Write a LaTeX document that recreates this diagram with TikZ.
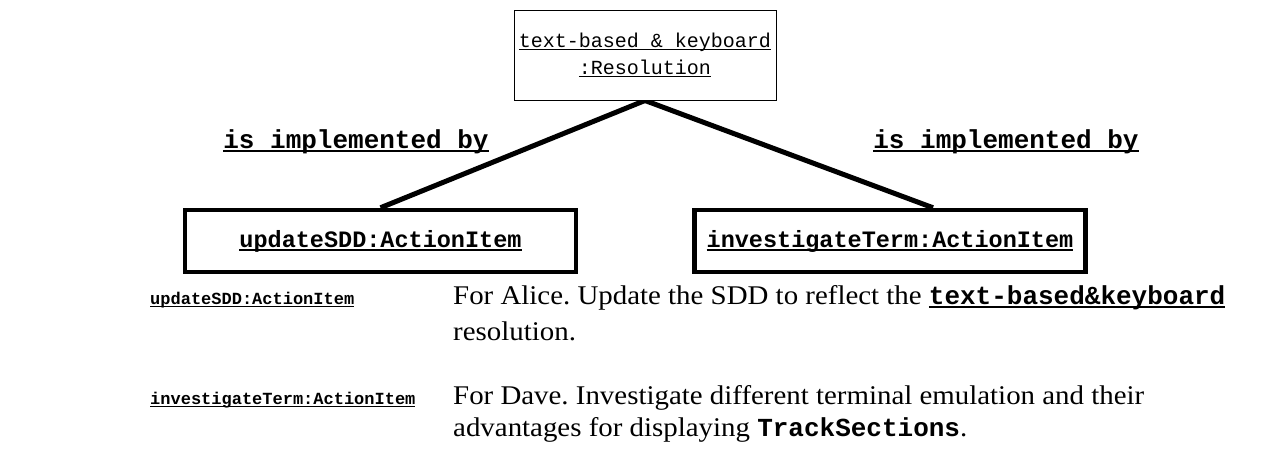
\documentclass[tikz,border=0pt]{standalone}
\usepackage{fontspec}
\setmainfont{Liberation Serif}[FakeStretch=1.07]
\setmonofont{Liberation Mono}
\usetikzlibrary{backgrounds}
\frenchspacing

% underline drawn close to the baseline, crossing descenders
\newcommand\ulbar[2][0.07em]{{\setbox0\hbox{#2}\rlap{\copy0}\rule[-0.16em]{\wd0}{#1}}}

\tikzset{
  objbox/.style={draw, line width=4.5pt, fill=white, minimum width=391pt,
    minimum height=62pt, inner sep=0pt,
    font=\fontsize{23.5}{28}\selectfont\ttfamily\bfseries},
  resbox/.style={draw, line width=1pt, fill=white, minimum width=262pt,
    minimum height=90pt, inner sep=0pt, align=center,
    font=\fontsize{20}{27}\selectfont\ttfamily},
  linklabel/.style={anchor=base, inner sep=0pt,
    font=\fontsize{26}{30}\selectfont\ttfamily\bfseries},
  itemname/.style={anchor=base west, inner sep=0pt,
    font=\fontsize{17}{20}\selectfont\ttfamily\bfseries},
  desc/.style={anchor=base west, inner sep=0pt,
    font=\fontsize{27}{32}\selectfont},
  link/.style={line width=5pt}
}
\newcommand\codetxt[1]{{\fontsize{26}{32}\selectfont\ttfamily\bfseries #1}}

\begin{document}
\begin{tikzpicture}[x=1pt,y=1pt]
\useasboundingbox (0,0) rectangle (1288,-472);

% objects
\node[resbox] (res) at (645,-55)
  {\ulbar[0.06em]{text-based \& keyboard}\\\ulbar[0.06em]{:Resolution}};
\node[objbox] (upd) at (380.5,-241) {\ulbar{updateSDD:ActionItem}};
\node[objbox] (inv) at (890,-241) {\ulbar{investigateTerm:ActionItem}};

% association labels
\node[linklabel] (lblL) at (356,-148) {\ulbar{is implemented by}};
\node[linklabel] (lblR) at (1006,-148) {\ulbar{is implemented by}};

% links
\begin{scope}[on background layer]
  \draw[link] (upd.north) -- (res.south);
  \draw[link] ([xshift=43pt]inv.north) -- (res.south);
\end{scope}

% legend
\node[itemname] (updName) at (150,-304) {\ulbar{updateSDD:ActionItem}};
\node[desc] (updDescA) at (453,-304)
  {For Alice. Update the SDD to reflect the \ulbar{\codetxt{text-based\&keyboard}}};
\node[desc] (updDescB) at (453,-340) {resolution.};

\node[itemname] (invName) at (150,-404) {\ulbar{investigateTerm:ActionItem}};
\node[desc] (invDescA) at (453,-404)
  {For Dave. Investigate different terminal emulation and their};
\node[desc] (invDescB) at (453,-436)
  {advantages for displaying \codetxt{TrackSections}.};
\end{tikzpicture}
\end{document}
